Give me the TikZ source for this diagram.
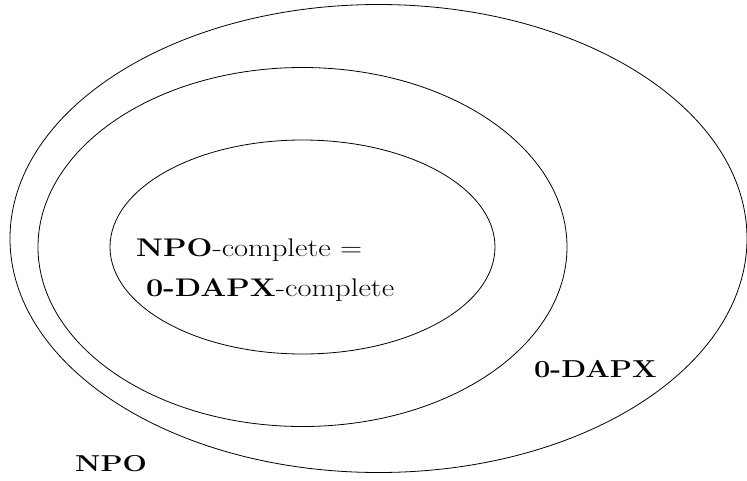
\documentclass[tikz,border=0pt]{standalone}
\usepackage{fontspec}
\begin{document}
\begin{tikzpicture}[x=1pt,y=-1pt,
  ring/.style={draw=black,line width=0.8pt},
  lbl/.style={anchor=base west,inner sep=0pt}]
\useasboundingbox (0,0) rectangle (747,480);
\draw[ring] (378.5,238.5) ellipse [x radius=368.5pt, y radius=234pt];
\draw[ring] (302.5,247) ellipse [x radius=264.5pt, y radius=179.5pt];
\draw[ring] (302.5,247) ellipse [x radius=192.5pt, y radius=107pt];
\node[lbl] (l1) at (136,256) {\scalebox{1.2}[1]{\fontsize{25.5}{30}\selectfont\textbf{NPO}-complete =}};
\node[lbl] (l2) at (146,296) {\scalebox{1.2}[1]{\fontsize{25.5}{30}\selectfont\textbf{0-DAPX}-complete}};
\node[lbl] (d) at (534,377) {\scalebox{1.18}[1]{\fontsize{24.5}{29}\selectfont\textbf{0-DAPX}}};
\node[lbl] (n) at (75,471) {\scalebox{1.25}[1]{\fontsize{23}{27}\selectfont\textbf{NPO}}};
\end{tikzpicture}
\end{document}
